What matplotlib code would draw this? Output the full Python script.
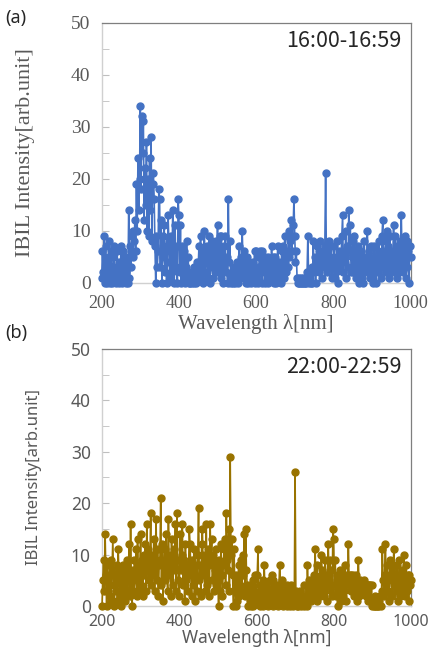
import numpy as np
import matplotlib
matplotlib.use("Agg")
import matplotlib.pyplot as plt
from matplotlib.ticker import MultipleLocator

# wavelength grid (nm), read every 2 nm
wavelength = np.arange(200, 1001, 2)

# (a) 16:00-16:59, one row = 50 nm
intensity_a = [
    1, 6, 2, 9, 0, 7, 3, 0, 5, 1, 8, 0, 6, 2, 0, 5, 7, 1, 3, 0, 6, 2, 0, 4, 1,
    7, 0, 3, 6, 1, 5, 0, 2, 4, 0, 14, 1, 7, 3, 9, 5, 10, 8, 12, 6, 19, 10, 24, 14, 20,
    34, 18, 32, 25, 31, 12, 22, 15, 27, 10, 20, 9, 24, 14, 28, 8, 19, 21, 16, 7, 0, 9, 3, 6, 18,
    16, 3, 12, 0, 9, 5, 11, 2, 7, 0, 4, 13, 8, 1, 6, 9, 2, 14, 5, 0, 11, 3, 7, 0, 16,
    13, 2, 11, 0, 7, 4, 1, 6, 0, 3, 8, 2, 5, 0, 1, 0, 2, 0, 1, 0, 3, 1, 0, 2, 4,
    3, 7, 1, 9, 2, 5, 0, 6, 10, 2, 4, 7, 1, 5, 9, 0, 6, 3, 8, 1, 4, 7, 2, 8, 3,
    11, 2, 6, 9, 1, 9, 4, 0, 7, 3, 9, 2, 5, 0, 16, 4, 8, 1, 0, 2, 0, 1, 3, 0, 2,
    4, 0, 3, 7, 1, 5, 2, 10, 4, 6, 1, 3, 0, 5, 2, 0, 4, 1, 3, 0, 2, 4, 1, 6, 0,
    6, 1, 3, 0, 5, 6, 2, 6, 0, 4, 2, 5, 0, 3, 1, 5, 0, 2, 4, 1, 7, 2, 5, 0, 3,
    5, 0, 3, 7, 1, 4, 2, 0, 6, 3, 7, 1, 9, 4, 2, 6, 3, 10, 5, 8, 12, 6, 9, 11, 16,
    9, 4, 6, 1, 0, 1, 0, 0, 1, 0, 0, 1, 0, 0, 0, 1, 2, 9, 1, 0, 1, 0, 3, 0, 8,
    2, 5, 0, 4, 7, 3, 6, 2, 8, 5, 1, 6, 4, 3, 7, 21, 5, 2, 6, 4, 8, 3, 7, 1, 5,
    3, 7, 1, 5, 2, 8, 0, 6, 4, 3, 5, 9, 13, 2, 6, 4, 10, 1, 7, 3, 14, 6, 11, 2, 5,
    8, 2, 9, 4, 1, 6, 3, 7, 0, 5, 2, 6, 1, 4, 0, 8, 3, 5, 2, 10, 4, 6, 1, 3, 7,
    1, 5, 0, 7, 3, 0, 4, 2, 6, 8, 3, 5, 1, 9, 12, 4, 6, 2, 8, 10, 3, 7, 1, 9, 4,
    6, 2, 5, 11, 3, 9, 4, 7, 1, 6, 2, 8, 3, 13, 5, 2, 8, 4, 9, 1, 8, 3, 6, 0, 7,
    5,
]

# (b) 22:00-22:59, one row = 50 nm
intensity_b = [
    0, 5, 9, 3, 14, 6, 0, 8, 3, 6, 2, 9, 1, 7, 13, 4, 0, 6, 3, 8, 1, 11, 5, 2, 7,
    0, 4, 8, 2, 6, 1, 7, 3, 9, 5, 12, 2, 16, 4, 0, 7, 3, 9, 5, 11, 2, 13, 6, 3, 8,
    14, 4, 9, 2, 10, 6, 12, 3, 16, 7, 11, 5, 8, 18, 4, 10, 6, 13, 3, 9, 17, 5, 11, 2, 8,
    9, 21, 4, 12, 1, 8, 11, 5, 14, 7, 3, 17, 6, 10, 2, 13, 8, 4, 11, 7, 16, 3, 18, 9, 5,
    2, 14, 7, 10, 16, 4, 9, 1, 12, 5, 8, 3, 6, 15, 12, 7, 2, 9, 4, 11, 1, 6, 8, 3, 10,
    19, 5, 8, 2, 12, 15, 6, 10, 3, 7, 16, 4, 11, 8, 2, 16, 9, 13, 5, 10, 3, 7, 11, 4, 8,
    5, 0, 9, 3, 12, 6, 2, 8, 11, 13, 4, 18, 9, 7, 15, 3, 29, 10, 13, 6, 0, 11, 3, 0, 6,
    1, 5, 8, 2, 4, 9, 3, 10, 6, 14, 2, 15, 7, 4, 0, 3, 1, 4, 0, 2, 5, 0, 3, 6, 1,
    2, 6, 11, 1, 4, 0, 3, 2, 5, 0, 8, 3, 1, 4, 2, 0, 3, 5, 1, 2, 6, 0, 5, 3, 1,
    1, 4, 2, 0, 3, 8, 4, 1, 5, 2, 0, 3, 1, 2, 0, 4, 1, 3, 0, 2, 4, 1, 0, 2, 1,
    26, 3, 0, 1, 0, 2, 1, 3, 0, 2, 1, 4, 0, 2, 1, 0, 8, 3, 5, 2, 1, 4, 5, 3, 2,
    6, 11, 3, 8, 1, 5, 4, 2, 6, 10, 7, 3, 5, 2, 9, 6, 1, 4, 12, 5, 9, 3, 7, 2, 15,
    13, 4, 9, 2, 6, 0, 5, 3, 7, 1, 4, 6, 2, 5, 3, 8, 1, 6, 4, 12, 5, 6, 3, 6, 4,
    6, 2, 5, 3, 6, 1, 4, 9, 2, 5, 4, 4, 3, 4, 5, 4, 4, 2, 4, 4, 1, 4, 4, 1, 4,
    0, 1, 0, 0, 2, 0, 1, 0, 0, 1, 2, 0, 3, 11, 5, 2, 6, 12, 4, 8, 3, 6, 1, 9, 5,
    7, 2, 8, 11, 4, 6, 3, 8, 1, 5, 9, 2, 6, 3, 7, 4, 10, 2, 5, 8, 3, 6, 1, 6, 4,
    5,
]

x_ticks = [200, 400, 600, 800, 1000]
y_ticks = [0, 10, 20, 30, 40, 50]

fig = plt.figure(figsize=(4.29, 6.49), dpi=100)

panels = [
    dict(rect=[0.237, 0.5644, 0.720, 0.4007], y=intensity_a, color="#4472C4",
         font="Liberation Serif", ytick=14, xtick=13, xlab=15, ylab=16,
         tag="(a)", tag_y=0.972, time="16:00-16:59", xpad=9, lpad=1, ylabx=-0.215),
    dict(rect=[0.2378, 0.0663, 0.720, 0.3960], y=intensity_b, color="#997300",
         font="Noto Sans", ytick=12.5, xtick=11.5, xlab=12.5, ylab=12,
         tag="(b)", tag_y=0.487, time="22:00-22:59", xpad=6, lpad=-1, ylabx=-0.195),
]

grey = "#595959"
for p in panels:
    ax = fig.add_axes(p["rect"])
    ax.plot(wavelength, p["y"], "-o", color=p["color"], lw=1.2, ms=5,
            clip_on=False, zorder=3)
    ax.set_xlim(200, 1000)
    ax.set_ylim(0, 50)
    ax.set_xticks(x_ticks)
    ax.set_yticks(y_ticks)
    ax.yaxis.set_minor_locator(MultipleLocator(5))
    ax.tick_params(axis="y", which="both", direction="in", length=5,
                   color="#bfbfbf", labelcolor=grey, labelsize=p["ytick"], pad=8)
    ax.tick_params(axis="x", length=0, labelcolor=grey, labelsize=p["xtick"],
                   pad=p["xpad"])
    for lab in ax.get_xticklabels() + ax.get_yticklabels():
        lab.set_fontfamily(p["font"])
    for s in ["left", "bottom"]:
        ax.spines[s].set_color("#d0d0d0")
        ax.spines[s].set_linewidth(1.0)
    for s in ["top", "right"]:
        ax.spines[s].set_color("#7f7f7f")
        ax.spines[s].set_linewidth(0.9)
    ax.set_xlabel("Wavelength λ[nm]", fontsize=p["xlab"], color=grey,
                  fontfamily=p["font"], labelpad=p["lpad"])
    ax.set_ylabel("IBIL Intensity[arb.unit]", fontsize=p["ylab"], color=grey,
                  fontfamily=p["font"])
    ax.yaxis.set_label_coords(p["ylabx"], 0.5)
    ax.text(0.97, 0.93, p["time"], transform=ax.transAxes, ha="right",
            va="center", fontsize=15.5, color="#262626",
            family=["Noto Sans CJK JP", "DejaVu Sans"])
    fig.text(0.012, p["tag_y"], p["tag"], fontsize=13, color="#262626",
             family="Noto Sans", va="center")

fig.savefig("out.png", dpi=100)
